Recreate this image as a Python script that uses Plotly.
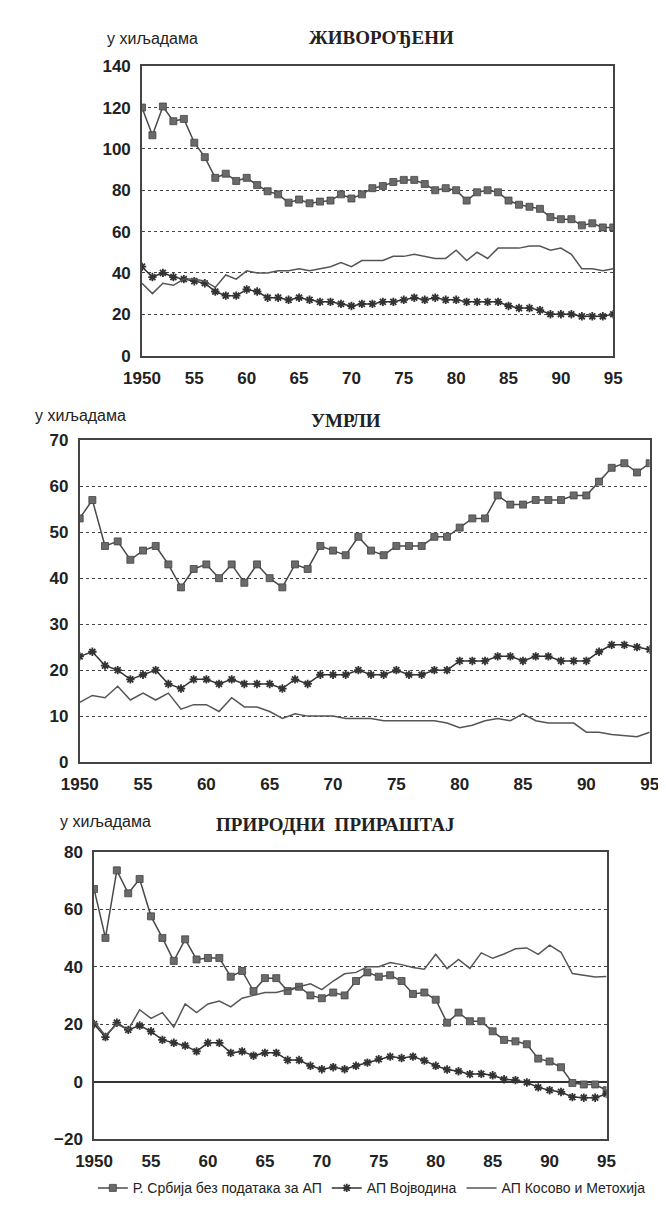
import plotly.graph_objects as go

years = list(range(1950, 1996))
x_tickvals = [1950, 1955, 1960, 1965, 1970, 1975, 1980, 1985, 1990, 1995]
x_ticktext = ["1950", "55", "60", "65", "70", "75", "80", "85", "90", "95"]

series_names = ["Р. Србија без података за АП", "АП Војводина", "АП Косово и Метохија"]

# ЖИВОРОЂЕНИ (live births, thousands)
births_serbia = [120, 106.6, 120.5, 113.4, 114.5, 103, 96, 86, 88, 84.5,
                 86, 82.5, 79.5, 78, 74, 75.5, 73.7, 74.5, 75, 78,
                 76, 78, 81, 82, 84, 85, 85, 83, 80, 81,
                 80, 75, 79, 80, 79, 75, 73, 72, 71, 67,
                 66, 66, 63, 64, 62, 62]
births_vojvodina = [43, 38, 40, 38, 37, 36, 35, 31, 29, 29,
                    32, 31, 28, 28, 27, 28, 27, 26, 26, 25,
                    24, 25, 25, 26, 26, 27, 28, 27, 28, 27,
                    27, 26, 26, 26, 26, 24, 23, 23, 22, 20,
                    20, 20, 19, 19, 19, 20]
births_kosovo = [35, 30, 35, 34, 37, 37, 36, 33, 39, 37,
                 41, 40, 40, 41, 41, 42, 41, 42, 43, 45,
                 43, 46, 46, 46, 48, 48, 49, 48, 47, 47,
                 51, 46, 50, 47, 52, 52, 52, 53, 53, 51,
                 52, 49, 42, 42, 41, 42]

# УМРЛИ (deaths, thousands)
deaths_serbia = [53, 57, 47, 48, 44, 46, 47, 43, 38, 42,
                 43, 40, 43, 39, 43, 40, 38, 43, 42, 47,
                 46, 45, 49, 46, 45, 47, 47, 47, 49, 49,
                 51, 53, 53, 58, 56, 56, 57, 57, 57, 58,
                 58, 61, 64, 65, 63, 65]
deaths_vojvodina = [23, 24, 21, 20, 18, 19, 20, 17, 16, 18,
                    18, 17, 18, 17, 17, 17, 16, 18, 17, 19,
                    19, 19, 20, 19, 19, 20, 19, 19, 20, 20,
                    22, 22, 22, 23, 23, 22, 23, 23, 22, 22,
                    22, 24, 25.5, 25.5, 25, 24.5]
deaths_kosovo = [13, 14.5, 14, 16.5, 13.5, 15, 13.5, 15, 11.5, 12.5,
                 12.5, 11, 14, 12, 12, 11, 9.5, 10.5, 10, 10,
                 10, 9.5, 9.5, 9.5, 9, 9, 9, 9, 9, 8.5,
                 7.5, 8, 9, 9.5, 9, 10.5, 9, 8.5, 8.5, 8.5,
                 6.5, 6.5, 6, 5.8, 5.5, 6.5]

# ПРИРОДНИ ПРИРАШТАЈ (natural increase, thousands)
ni_serbia = [67, 50, 73.5, 65.5, 70.5, 57.5, 50, 42, 49.5, 42.5,
             43, 43, 36.5, 38.5, 31.5, 36, 36, 31.5, 33, 30,
             29, 31, 30, 35, 38, 36.5, 37, 35, 30.5, 31,
             28.5, 20.5, 24, 21, 21, 17.5, 14.5, 14, 13, 8,
             7, 5, -0.5, -1, -1, -3]
ni_vojvodina = [20, 15.5, 20.5, 18, 19.5, 17.5, 14.5, 13.5, 12.5, 10.5,
                13.5, 13.5, 10, 10.5, 9, 10, 10, 7.5, 7.5, 5.5,
                4.3, 5, 4.3, 5.5, 6.6, 7.8, 8.7, 8.2, 8.7, 7.3,
                5.5, 4.2, 3.6, 2.6, 2.7, 2.2, 0.8, 0.5, -0.3, -2,
                -3, -3.6, -5.4, -5.6, -5.6, -4.3]
ni_kosovo = [21, 16, 20, 18, 25, 22, 24, 19, 27, 24,
             27, 28, 26, 29, 30, 31, 31, 32, 33, 34,
             32, 35, 37.5, 38, 40, 40, 41.4, 40.7, 39.7, 39.1,
             44.3, 39.3, 42.5, 39.4, 44.8, 42.9, 44.4, 46.2, 46.5, 44.3,
             47.5, 45, 37.6, 36.9, 36.4, 36.6]

panels = [
    ("x", "y", births_serbia, births_vojvodina, births_kosovo),
    ("x2", "y2", deaths_serbia, deaths_vojvodina, deaths_kosovo),
    ("x3", "y3", ni_serbia, ni_vojvodina, ni_kosovo),
]

fig = go.Figure()
for i, (xa, ya, s, v, k) in enumerate(panels):
    first = i == 0
    fig.add_trace(go.Scatter(
        x=years, y=s, xaxis=xa, yaxis=ya, mode="lines+markers",
        name=series_names[0], legendgroup="s", showlegend=first,
        line=dict(color="#4a4a4a", width=1.5),
        marker=dict(symbol="square", size=7, color="#6a6a6a",
                    line=dict(color="#444", width=0.8)),
    ))
    fig.add_trace(go.Scatter(
        x=years, y=v, xaxis=xa, yaxis=ya, mode="lines+markers",
        name=series_names[1], legendgroup="v", showlegend=first,
        line=dict(color="#333", width=1.5),
        marker=dict(symbol="asterisk-open", size=7,
                    line=dict(color="#333", width=1.8)),
    ))
    fig.add_trace(go.Scatter(
        x=years, y=k, xaxis=xa, yaxis=ya, mode="lines",
        name=series_names[2], legendgroup="k", showlegend=first,
        line=dict(color="#555", width=1.5),
    ))

W, H = 666, 1209


def px_x(p):
    return p / W


def px_y(p):
    return 1 - p / H


tick_font = dict(family="Liberation Sans, Arial, sans-serif", size=17,
                 color="#222", weight="bold")

common_x = dict(range=[1950, 1995], tickvals=x_tickvals, ticktext=x_ticktext,
                showgrid=False, zeroline=False, showline=True, mirror=True,
                linecolor="#444", linewidth=1.5, ticks="", tickfont=tick_font,
                ticklabelstandoff=6)
common_y = dict(showgrid=True, gridcolor="#444", griddash="dot", gridwidth=1,
                zeroline=False, showline=True, mirror=True, linecolor="#444",
                linewidth=1.5, ticks="", tickfont=tick_font, ticklabelstandoff=6)

fig.update_layout(
    width=W, height=H,
    margin=dict(l=0, r=0, t=0, b=0),
    paper_bgcolor="white", plot_bgcolor="white",
    xaxis=dict(common_x, domain=[px_x(120), px_x(612)], anchor="y"),
    yaxis=dict(common_y, domain=[px_y(344), px_y(50)], range=[0, 140], dtick=20, anchor="x"),
    xaxis2=dict(common_x, domain=[px_x(55), px_x(650)], anchor="y2"),
    yaxis2=dict(common_y, domain=[px_y(757), px_y(430)], range=[0, 70], dtick=10, anchor="x2"),
    xaxis3=dict(common_x, domain=[px_x(70), px_x(605)], anchor="y3"),
    yaxis3=dict(common_y, domain=[px_y(1140), px_y(848)], range=[-20, 80], dtick=20,
                anchor="x3", zeroline=True, zerolinecolor="#333", zerolinewidth=1.5),
    legend=dict(orientation="h", x=px_x(360), xanchor="center", y=px_y(1190),
                yanchor="middle", font=dict(family="Liberation Sans, Arial, sans-serif",
                                            size=14, color="#222"),
                itemwidth=30, tracegroupgap=0, bgcolor="rgba(0,0,0,0)"),
    showlegend=True,
)

unit_font = dict(family="Liberation Sans, Arial, sans-serif", size=16, color="#222")
title_font = dict(family="Liberation Serif, Times New Roman, serif", size=19,
                  color="#222", weight="bold")

annotations = [
    dict(text="у хиљадама", x=px_x(81), y=px_y(22), xanchor="left", yanchor="middle", font=unit_font),
    dict(text="ЖИВОРОЂЕНИ", x=px_x(370), y=px_y(21), xanchor="center", yanchor="middle", font=title_font),
    dict(text="у хиљадама", x=px_x(6), y=px_y(405), xanchor="left", yanchor="middle", font=unit_font),
    dict(text="УМРЛИ", x=px_x(333), y=px_y(410), xanchor="center", yanchor="middle", font=title_font),
    dict(text="у хиљадама", x=px_x(32), y=px_y(817), xanchor="left", yanchor="middle", font=unit_font),
    dict(text="ПРИРОДНИ\u00a0 ПРИРАШТАЈ", x=px_x(322), y=px_y(820), xanchor="center", yanchor="middle", font=title_font),
]
for a in annotations:
    a.update(xref="paper", yref="paper", showarrow=False)
fig.update_layout(annotations=annotations)

fig.write_html("out.html")
